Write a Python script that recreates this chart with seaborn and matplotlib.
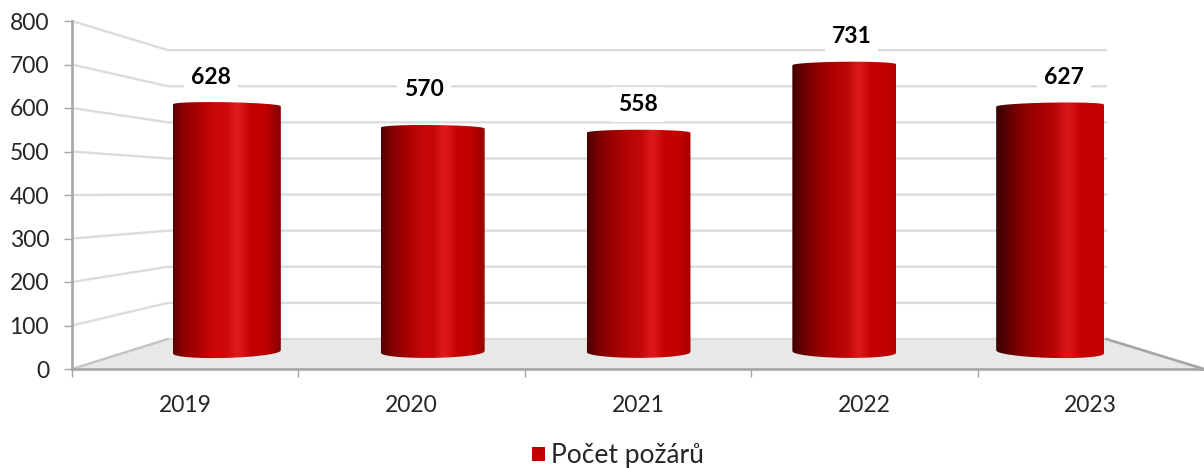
import numpy as np
import pandas as pd
import seaborn as sns
import matplotlib
matplotlib.use("Agg")
import matplotlib.pyplot as plt
from matplotlib.colors import to_rgb
from matplotlib.patches import PathPatch, Patch, Polygon
from matplotlib.path import Path

years = ["2019", "2020", "2021", "2022", "2023"]
fires = [628, 570, 558, 731, 627]
y_ticks = [0, 100, 200, 300, 400, 500, 600, 700, 800]
series_name = "Počet požárů"

W, H = 1204, 468
sns.set_theme(style="white")
plt.rcParams["font.family"] = ["Lato", "DejaVu Sans"]
fig = plt.figure(figsize=(W / 100, H / 100), dpi=100, facecolor="white")


def axes_px(left, top, right, bottom):
    return [left / W, 1 - bottom / H, (right - left) / W, (bottom - top) / H]


# Front plane: value axis and category axis
ax = fig.add_axes(axes_px(72, 21, 1204, 369))
ax.set_xlim(-0.5, 4.5)
ax.set_ylim(0, 800)
ax.set_facecolor("none")
for side in ("top", "right"):
    ax.spines[side].set_visible(False)
for side in ("left", "bottom"):
    ax.spines[side].set_color("#a6a6a6")
    ax.spines[side].set_linewidth(1.9)
ax.set_yticks(y_ticks)
ax.tick_params(axis="y", left=True, length=5.5, width=1.0, color="#a6a6a6",
               labelsize=16.5, labelcolor="#262626", pad=11)
ax.set_xticks(np.arange(-0.5, 3.6, 1.0))
ax.set_xticklabels([])
ax.set_xticks(np.arange(len(years)), labels=years, minor=True)
ax.tick_params(axis="x", which="major", bottom=True, length=5.5, width=1.0, color="#a6a6a6")
ax.tick_params(axis="x", which="minor", bottom=False, length=0, labelsize=16.5,
               labelcolor="#262626", pad=19)

# Perspective wall and floor (back plane expressed in front-plane units)
tr = ax.get_yaxis_transform()
back_l, back_r = 0.0848, 0.9135


def back(v):
    return 69 + 0.83 * v


ax.add_patch(Polygon([(0, 0), (1, 0), (back_r, back(0)), (back_l, back(0))],
                     closed=True, transform=tr, facecolor="#e8e8e8", edgecolor="none", zorder=1))
for v in y_ticks:
    ax.plot([0, back_l, back_r], [v, back(v), back(v)], transform=tr, color="#dcdcdc",
            lw=1.7, solid_joinstyle="round", zorder=1.5, clip_on=False)
ax.plot([0, back_l], [0, back(0)], transform=tr, color="#c4c4c4", lw=1.6, zorder=2)
ax.plot([back_r, 1], [back(0), 0], transform=tr, color="#a6a6a6", lw=1.9, zorder=2, clip_on=False)

# Bars on the mid plane
bx = fig.add_axes(axes_px(124, 37.6, 1153, 359.86))
bx.set_facecolor("none")
df = pd.DataFrame({"year": years, "fires": fires})
sns.barplot(data=df, x="year", y="fires", ax=bx, width=0.51, color="#c00000", saturation=1)
bx.set_xlim(-0.5, 4.5)
bx.set_ylim(-20, 800)
bx.axis("off")

stops_pos_a = [0, .10, .25, .40, .50, .58, .62, .72, .85, 1.0]
stops_pos_b = [0, .10, .25, .40, .55, .65, .69, .78, .90, 1.0]
stops_col_a = ["#5c0000", "#8f0000", "#b00000", "#cc0a0a", "#cc0808", "#e01a1a", "#dc1818", "#c40000", "#c00000", "#8a0000"]
stops_col_b = ["#3c0000", "#5a0000", "#8c0000", "#a40000", "#b80808", "#d81818", "#d81616", "#c60000", "#c40000", "#c40000"]
ca = np.array([to_rgb(c) for c in stops_col_a])
cb = np.array([to_rgb(c) for c in stops_col_b])
pa, pb = np.array(stops_pos_a), np.array(stops_pos_b)

t = np.linspace(-1, 1, 81)
curve = np.sqrt(1 - t ** 2)
xs = np.linspace(0, 1, 256)
for i, (patch, v) in enumerate(zip(bx.patches, fires)):
    patch.set_visible(False)
    xc = patch.get_x() + patch.get_width() / 2
    half = 0.262 if i in (0, 4) else 0.2525
    s = (2 - i) / 2
    top = v + 7.6 * curve - 2.5 * s * t
    bottom = -15 * curve + 4 * s * t
    verts = np.vstack([np.column_stack([xc + half * t, top]),
                       np.column_stack([xc + half * t[::-1], bottom[::-1]]),
                       [[xc - half, top[0]]]])
    clip = PathPatch(Path(verts), transform=bx.transData, facecolor="none", edgecolor="none")
    bx.add_patch(clip)
    mix = i / 4
    pos = pa * (1 - mix) + pb * mix
    col = ca * (1 - mix) + cb * mix
    grad = np.stack([np.interp(xs, pos, col[:, k]) for k in range(3)], axis=1)[None, :, :]
    im = bx.imshow(grad, extent=(xc - half, xc + half, -20, v + 15), aspect="auto",
                   interpolation="bilinear", zorder=3)
    im.set_clip_path(clip)
    dy = 38 if i == 1 else 28
    dx = (i - 2) * 7.4 - (0 if i == 3 else 1)
    bx.annotate(str(v), (xc, v), xytext=(dx, dy), textcoords="offset pixels",
                ha="center", va="center", fontsize=16.5, fontweight="bold", color="black",
                zorder=5, bbox=dict(boxstyle="square,pad=0.3", facecolor="white", edgecolor="none"))
bx.set_xlim(-0.5, 4.5)
bx.set_ylim(-20, 800)

fig.legend(handles=[Patch(facecolor="#c00000", edgecolor="none", label=series_name)],
           loc="center", bbox_to_anchor=(618 / W, 1 - 456 / H), frameon=False,
           fontsize=19, labelcolor="#262626", handlelength=0.48, handleheight=0.48,
           handletextpad=0.25, borderpad=0)

fig.savefig("out.png", dpi=100, facecolor="white")
